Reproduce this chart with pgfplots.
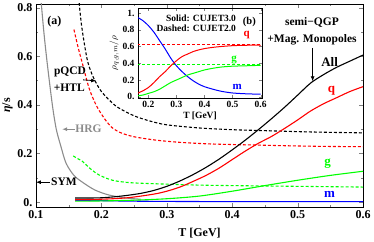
\documentclass[border=0pt]{standalone}
\usepackage{fontspec}
\setmainfont{Liberation Serif}
\usepackage{pgfplots}
\pgfplotsset{compat=1.18}
\usetikzlibrary{arrows.meta}
\definecolor{hrg}{gray}{0.55}
\begin{document}
\begin{tikzpicture}[font=\bfseries]
\begin{axis}[at={(0pt,0pt)}, anchor=south west, scale only axis,
  width=327pt, height=203pt,
  xmin=0.1, xmax=0.6, ymin=-0.02, ymax=0.815,
  xtick={0.1,0.2,0.3,0.4,0.5,0.6}, xticklabels={0.1,0.2,0.3,0.4,0.5,0.6},
  ytick={0,0.2,0.4,0.6,0.8}, yticklabels={0.,0.2,0.4,0.6,0.8},
  minor x tick num=1, minor y tick num=1,
  tick align=inside, major tick length=4pt, minor tick length=2.5pt,
  /pgf/number format/assume math mode=true,
  tick label style={font=\bfseries\fontsize{12}{13}\selectfont},
  label style={font=\bfseries\fontsize{12}{13}\selectfont},
  xlabel={T [GeV]}, ylabel={\textit{η}/s},
  xlabel style={yshift=-3pt}, ylabel style={yshift=-2pt},
  axis line style={line width=0.8pt},
  every axis plot/.append style={line width=1.1pt},
  clip=true,
]
% HRG
\addplot[hrg, smooth] coordinates {(0.108,0.82) (0.112,0.70) (0.117,0.575) (0.125,0.40) (0.131,0.30) (0.138,0.23) (0.146,0.16) (0.158,0.11) (0.171,0.082) (0.19,0.05) (0.212,0.029) (0.238,0.017) (0.26,0.012)};
% CUJET2.0 dashed
\addplot[black, dash pattern=on 3pt off 2pt, smooth] coordinates {(0.166,0.82) (0.17,0.72) (0.178,0.59) (0.185,0.53) (0.192,0.49) (0.20,0.455) (0.212,0.42) (0.225,0.39) (0.25,0.355) (0.275,0.333) (0.30,0.318) (0.35,0.305) (0.40,0.298) (0.45,0.294) (0.50,0.29) (0.55,0.287) (0.60,0.285)};
\addplot[red, dash pattern=on 3pt off 2pt, smooth] coordinates {(0.158,0.71) (0.165,0.63) (0.171,0.57) (0.181,0.47) (0.19,0.41) (0.197,0.375) (0.207,0.335) (0.217,0.305) (0.23,0.285) (0.248,0.27) (0.27,0.26) (0.29,0.253) (0.32,0.246) (0.36,0.24) (0.40,0.237) (0.45,0.234) (0.50,0.231) (0.55,0.229) (0.60,0.228)};
\addplot[green, dash pattern=on 3pt off 2pt, smooth] coordinates {(0.157,0.19) (0.163,0.18) (0.17,0.17) (0.176,0.155) (0.182,0.14) (0.19,0.123) (0.197,0.111) (0.207,0.099) (0.217,0.09) (0.23,0.084) (0.25,0.079) (0.3,0.074) (0.35,0.07) (0.4,0.068) (0.5,0.065) (0.6,0.062)};
% CUJET3.0 solid
\addplot[blue, smooth] coordinates {(0.16,0.008) (0.2,0.006) (0.25,0.004) (0.3,0.003) (0.4,0.002) (0.5,0.002) (0.6,0.002)};
\addplot[green, smooth] coordinates {(0.16,0.004) (0.2,0.005) (0.25,0.008) (0.3,0.014) (0.35,0.025) (0.4,0.045) (0.45,0.068) (0.5,0.09) (0.55,0.11) (0.6,0.127)};
\addplot[red, smooth] coordinates {(0.16,0.01) (0.2,0.012) (0.24,0.018) (0.28,0.033) (0.30,0.045) (0.32,0.062) (0.34,0.085) (0.36,0.11) (0.38,0.14) (0.40,0.175) (0.42,0.21) (0.44,0.242) (0.46,0.27) (0.48,0.303) (0.50,0.338) (0.52,0.375) (0.54,0.405) (0.56,0.43) (0.58,0.455) (0.60,0.475)};
\addplot[black, smooth] coordinates {(0.16,0.017) (0.18,0.017) (0.2,0.018) (0.22,0.022) (0.24,0.028) (0.26,0.036) (0.28,0.048) (0.30,0.065) (0.32,0.087) (0.34,0.113) (0.36,0.143) (0.38,0.177) (0.40,0.215) (0.42,0.255) (0.44,0.298) (0.46,0.343) (0.48,0.39) (0.50,0.44) (0.52,0.49) (0.54,0.525) (0.56,0.555) (0.58,0.58) (0.60,0.605)};
% annotations
\node[font=\bfseries\fontsize{12}{13}\selectfont] at (axis cs:0.128,0.742) {(a)};
\node[font=\bfseries\fontsize{11.5}{12}\selectfont] at (axis cs:0.152,0.536) {pQCD};
\node[font=\bfseries\fontsize{11.5}{12}\selectfont] at (axis cs:0.151,0.47) {+HTL};
\draw[-{Latex[length=5pt,width=4pt]}, line width=0.8pt] (axis cs:0.172,0.503) -- (axis cs:0.192,0.499);
\draw[-{Latex[length=5pt,width=4pt]}, line width=0.8pt, hrg] (axis cs:0.159,0.30) -- (axis cs:0.14,0.30);
\node[anchor=west, hrg, font=\bfseries\fontsize{11.5}{12}\selectfont, inner sep=0pt] at (axis cs:0.16,0.30) {HRG};
\draw[-{Latex[length=5pt,width=4pt]}, line width=0.8pt] (axis cs:0.121,0.082) -- (axis cs:0.1,0.082);
\node[anchor=west, font=\bfseries\fontsize{11.5}{12}\selectfont, inner sep=0pt] at (axis cs:0.123,0.082) {SYM};
\node[font=\bfseries\fontsize{11.5}{12}\selectfont] at (axis cs:0.522,0.738) {semi−QGP};
\node[font=\bfseries\fontsize{11.5}{12}\selectfont] at (axis cs:0.522,0.668) {+Mag. Monopoles};
\draw[-{Latex[length=5pt,width=4pt]}, line width=0.8pt] (axis cs:0.523,0.635) -- (axis cs:0.523,0.497);
\node[font=\bfseries\fontsize{13}{14}\selectfont] at (axis cs:0.549,0.577) {All};
\node[red, font=\bfseries\fontsize{13}{14}\selectfont] at (axis cs:0.552,0.458) {q};
\node[green, font=\bfseries\fontsize{13}{14}\selectfont] at (axis cs:0.546,0.16) {g};
\node[blue, font=\bfseries\fontsize{13}{14}\selectfont] at (axis cs:0.549,0.032) {m};
\end{axis}
% inset
\begin{axis}[at={(102pt,109pt)}, anchor=south west, scale only axis,
  width=124pt, height=90pt,
  xmin=0.163, xmax=0.605, ymin=-0.015, ymax=1.06,
  xtick={0.2,0.3,0.4,0.5,0.6}, xticklabels={0.2,0.3,0.4,0.5,0.6},
  ytick={0,0.2,0.4,0.6,0.8,1}, yticklabels={0.,0.2,0.4,0.6,0.8,1.},
  tick align=inside, major tick length=3pt,
  /pgf/number format/assume math mode=true,
  tick label style={font=\bfseries\fontsize{9.5}{10}\selectfont},
  label style={font=\bfseries\fontsize{9.5}{10}\selectfont},
  xlabel={T [GeV]}, ylabel={$\rho_{q,g,m}/\rho$},
  xlabel style={yshift=3pt}, ylabel style={yshift=-3pt},
  axis line style={line width=0.8pt},
  axis background/.style={fill=white},
  every axis plot/.append style={line width=1pt},
]
\addplot[red, dash pattern=on 3pt off 2pt] coordinates {(0.16,0.62) (0.6,0.62)};
\addplot[green, dash pattern=on 3pt off 2pt] coordinates {(0.16,0.38) (0.6,0.38)};
\addplot[blue, smooth] coordinates {(0.16,0.95) (0.18,0.91) (0.20,0.85) (0.22,0.77) (0.24,0.67) (0.26,0.57) (0.28,0.46) (0.30,0.37) (0.32,0.30) (0.34,0.24) (0.36,0.19) (0.38,0.15) (0.40,0.12) (0.43,0.09) (0.46,0.065) (0.50,0.045) (0.55,0.035) (0.60,0.03)};
\addplot[red, smooth] coordinates {(0.16,0.04) (0.18,0.07) (0.20,0.11) (0.22,0.17) (0.24,0.24) (0.26,0.30) (0.28,0.37) (0.30,0.43) (0.32,0.48) (0.34,0.51) (0.36,0.54) (0.38,0.56) (0.40,0.575) (0.43,0.59) (0.46,0.60) (0.50,0.61) (0.55,0.615) (0.60,0.615)};
\addplot[green, smooth] coordinates {(0.16,0.01) (0.18,0.02) (0.20,0.04) (0.22,0.06) (0.24,0.09) (0.26,0.13) (0.28,0.17) (0.30,0.20) (0.32,0.23) (0.34,0.26) (0.36,0.28) (0.38,0.30) (0.40,0.32) (0.43,0.34) (0.46,0.355) (0.50,0.365) (0.55,0.37) (0.60,0.375)};
\node[anchor=east, font=\bfseries\fontsize{9.5}{10}\selectfont, inner sep=0pt] at (axis cs:0.513,0.94) {Solid: CUJET3.0};
\node[anchor=east, font=\bfseries\fontsize{9.5}{10}\selectfont, inner sep=0pt] at (axis cs:0.513,0.82) {Dashed: CUJET2.0};
\node[font=\bfseries\fontsize{10.5}{11}\selectfont] at (axis cs:0.56,0.89) {(b)};
\node[red, font=\bfseries\fontsize{11}{12}\selectfont] at (axis cs:0.55,0.74) {q};
\node[green, font=\bfseries\fontsize{11}{12}\selectfont] at (axis cs:0.506,0.44) {g};
\node[blue, font=\bfseries\fontsize{11}{12}\selectfont] at (axis cs:0.517,0.114) {m};
\end{axis}
\pgfresetboundingbox
\path (-36pt,-34pt) rectangle (338pt,207pt);
\end{tikzpicture}
\end{document}
